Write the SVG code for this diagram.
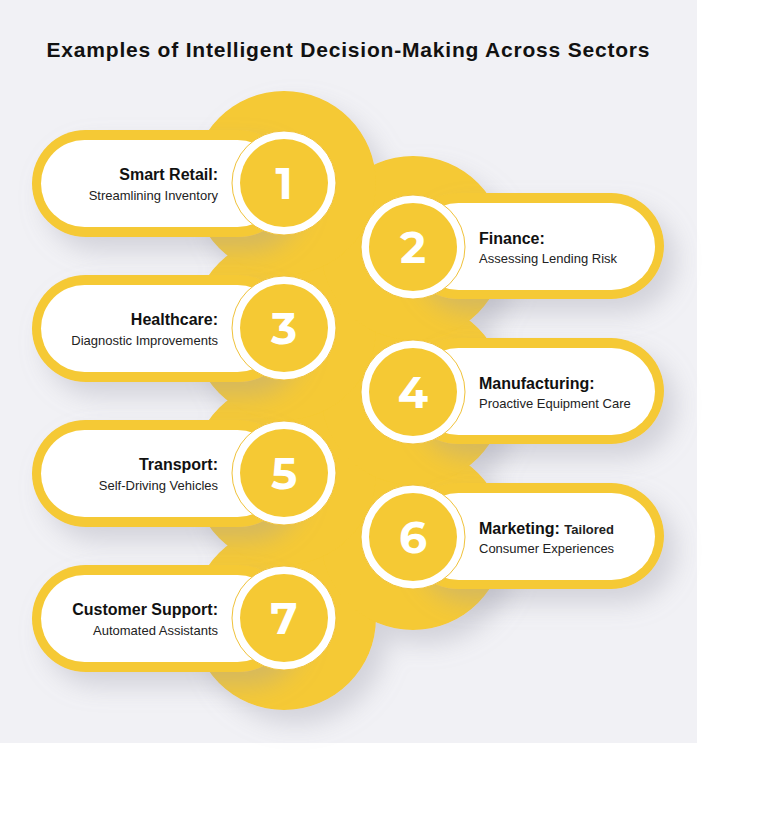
<svg xmlns="http://www.w3.org/2000/svg" width="779" height="825" viewBox="0 0 779 825">
<defs>
<filter id="sh" x="-30%" y="-30%" width="170%" height="170%"><feDropShadow dx="12" dy="14" stdDeviation="12" flood-color="#9a9aa8" flood-opacity="0.35"/></filter>
<filter id="sh2" x="-30%" y="-30%" width="170%" height="170%"><feDropShadow dx="3" dy="3" stdDeviation="3" flood-color="#777" flood-opacity="0.3"/></filter>
</defs>
<style>
.y{fill:#f5c934}
.w{fill:#fff}
.ring{fill:#fff;stroke:#f0c23a;stroke-width:1}
.num{font-family:"Montserrat","Liberation Sans",Arial,sans-serif;font-weight:700;font-size:44px;fill:#fff;text-anchor:middle}
.t{font-family:"Liberation Sans",Arial,sans-serif;font-weight:700;font-size:16px;fill:#111}
.s{font-family:"Liberation Sans",Arial,sans-serif;font-size:13px;fill:#222}
.r{text-anchor:end}
</style>
<rect x="0" y="0" width="779" height="825" fill="#fff"/>
<rect x="0" y="0" width="697" height="743" fill="#f1f1f5"/>
<text x="348" y="57" text-anchor="middle" font-family="Liberation Sans, Arial, sans-serif" font-weight="700" font-size="21" fill="#111" textLength="603">Examples of Intelligent Decision-Making Across Sectors</text>
<g id="bigcircles" filter="url(#sh)">
<circle class="y" cx="284" cy="618" r="92"/>
<circle class="y" cx="413" cy="538" r="92"/>
<circle class="y" cx="284" cy="473" r="92"/>
<circle class="y" cx="413" cy="393" r="92"/>
<circle class="y" cx="284" cy="328" r="92"/>
<circle class="y" cx="413" cy="248" r="92"/>
<circle class="y" cx="284" cy="183" r="92"/>
</g>
<g id="n1"><rect class="y" x="32" y="130" width="260" height="107" rx="53.5" filter="url(#sh)"/><rect class="w" x="41" y="140" width="240" height="87" rx="43.5"/><circle class="ring" cx="284" cy="183" r="52"/><circle class="y" cx="284" cy="183" r="44"/><text class="num" x="284" y="199">1</text><text class="t r" x="218" y="180">Smart Retail:</text><text class="s r" x="218" y="200">Streamlining Inventory</text></g>
<g id="n2"><rect class="y" x="405" y="193" width="259" height="106" rx="53" filter="url(#sh)"/><rect class="w" x="415" y="203" width="240" height="87" rx="43.5"/><circle class="ring" cx="413" cy="247" r="52"/><circle class="y" cx="413" cy="247" r="44"/><text class="num" x="413" y="263">2</text><text class="t" x="479" y="244">Finance:</text><text class="s" x="479" y="263">Assessing Lending Risk</text></g>
<g id="n3"><rect class="y" x="32" y="275" width="260" height="107" rx="53.5" filter="url(#sh)"/><rect class="w" x="41" y="285" width="240" height="87" rx="43.5"/><circle class="ring" cx="284" cy="328" r="52"/><circle class="y" cx="284" cy="328" r="44"/><text class="num" x="284" y="344">3</text><text class="t r" x="218" y="325">Healthcare:</text><text class="s r" x="218" y="345">Diagnostic Improvements</text></g>
<g id="n4"><rect class="y" x="405" y="338" width="259" height="106" rx="53" filter="url(#sh)"/><rect class="w" x="415" y="348" width="240" height="87" rx="43.5"/><circle class="ring" cx="413" cy="392" r="52"/><circle class="y" cx="413" cy="392" r="44"/><text class="num" x="413" y="408">4</text><text class="t" x="479" y="389">Manufacturing:</text><text class="s" x="479" y="408">Proactive Equipment Care</text></g>
<g id="n5"><rect class="y" x="32" y="420" width="260" height="107" rx="53.5" filter="url(#sh)"/><rect class="w" x="41" y="430" width="240" height="87" rx="43.5"/><circle class="ring" cx="284" cy="473" r="52"/><circle class="y" cx="284" cy="473" r="44"/><text class="num" x="284" y="489">5</text><text class="t r" x="218" y="470">Transport:</text><text class="s r" x="218" y="490">Self-Driving Vehicles</text></g>
<g id="n6"><rect class="y" x="405" y="483" width="259" height="106" rx="53" filter="url(#sh)"/><rect class="w" x="415" y="493" width="240" height="87" rx="43.5"/><circle class="ring" cx="413" cy="537" r="52"/><circle class="y" cx="413" cy="537" r="44"/><text class="num" x="413" y="553">6</text><text class="t" x="479" y="534">Marketing: <tspan class="s">Tailored</tspan></text><text class="s" x="479" y="553">Consumer Experiences</text></g>
<g id="n7"><rect class="y" x="32" y="565" width="260" height="107" rx="53.5" filter="url(#sh)"/><rect class="w" x="41" y="575" width="240" height="87" rx="43.5"/><circle class="ring" cx="284" cy="618" r="52"/><circle class="y" cx="284" cy="618" r="44"/><text class="num" x="284" y="634">7</text><text class="t r" x="218" y="615">Customer Support:</text><text class="s r" x="218" y="635">Automated Assistants</text></g>
<g id="connectors"></g>
</svg>
